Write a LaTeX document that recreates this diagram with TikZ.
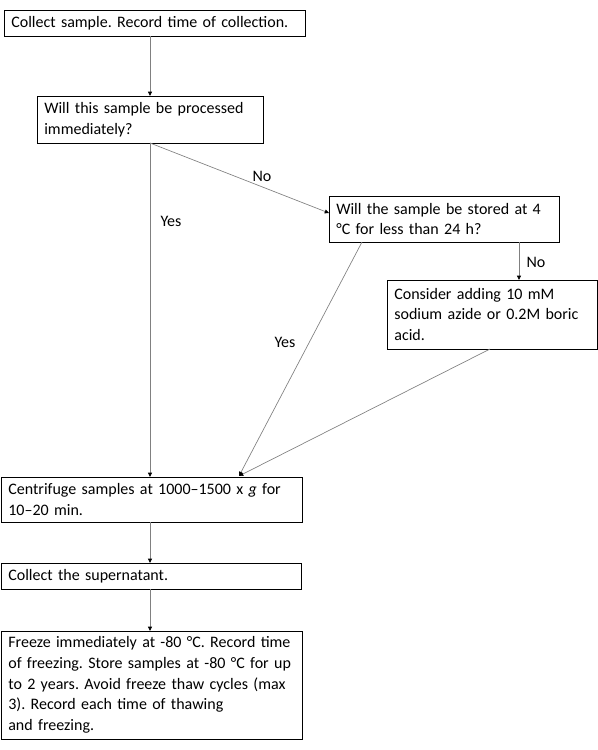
\documentclass[tikz,border=0pt]{standalone}
\usepackage{fontspec}
\setmainfont{Carlito}
\usetikzlibrary{arrows.meta,calc}
\begin{document}
\frenchspacing
\begin{tikzpicture}[x=0.75pt,y=-0.75pt,
  font=\fontsize{12pt}{15.45pt}\selectfont,
  box/.style={draw=black,line width=0.75pt,anchor=north west,align=left,
    inner xsep=5.5pt,inner ysep=0pt,outer sep=0pt},
  conn/.style={draw=gray,line width=0.5pt,-{Triangle[length=3.2pt,width=3pt,black]}},
  lbl/.style={inner sep=0pt}]
\useasboundingbox (0,0) rectangle (598,750);
\node[box,minimum width=301*0.75pt,minimum height=26*0.75pt,text width=301*0.75pt-11pt] (b1) at (4,10) {Collect sample. Record time of collection.};
\node[box,minimum width=226*0.75pt,minimum height=47*0.75pt,text width=226*0.75pt-11pt] (b2) at (37,96) {Will this sample be processed\\immediately?};
\node[box,minimum width=230*0.75pt,minimum height=46*0.75pt,text width=230*0.75pt-11pt] (b3) at (329,196) {Will the sample be stored at 4\\°C for less than 24 h?};
\node[box,minimum width=210*0.75pt,minimum height=69*0.75pt,text width=210*0.75pt-11pt] (b4) at (387,280) {Consider adding 10 mM\\sodium azide or 0.2M boric\\acid.};
\node[box,minimum width=301*0.75pt,minimum height=45*0.75pt,text width=301*0.75pt-11pt] (b5) at (1,477) {Centrifuge samples at 1000–1500 x \textit{g} for\\10–20 min.};
\node[box,minimum width=300*0.75pt,minimum height=26*0.75pt,text width=300*0.75pt-11pt] (b6) at (1,563) {Collect the supernatant.};
\node[box,minimum width=301*0.75pt,minimum height=108*0.75pt,text width=301*0.75pt-11pt] (b7) at (1,631) {Freeze immediately at -80 °C. Record time\\of freezing. Store samples at -80 °C for up\\to 2 years. Avoid freeze thaw cycles (max\\3). Record each time of thawing\\and freezing.};
% connectors
\draw[conn] (b2.north |- b1.south) -- (b2.north);
\draw[conn] (b2.south) -- (b2.south |- b5.north);
\draw[conn] (b2.south |- b5.south) -- (b2.south |- b6.north);
\draw[conn] (b2.south |- b6.south) -- (b2.south |- b7.north);
\coordinate (b3in) at ($(b3.north west)!0.37!(b3.south west)$);
\draw[conn] (b2.south) -- (b3in);
\coordinate (b3no) at ($(b3.south west)!0.826!(b3.south east)$);
\draw[conn] (b3no) -- (b3no |- b4.north);
\coordinate (b3yes) at ($(b3.south west)+(33,0)$);
\coordinate (b5in) at ($(b5.north west)+(238,-1)$);
\draw[conn] (b3yes) -- (b5in);
\coordinate (b4out) at ($(b4.south west)+(103,0)$);
\draw[conn] (b4out) -- (b5in);
% labels
\node[lbl] (l1) at (262,176) {No};
\node[lbl] (l2) at (171,221) {Yes};
\node[lbl] (l3) at (285,342) {Yes};
\node[lbl] (l4) at (536,262) {No};
\end{tikzpicture}
\end{document}
